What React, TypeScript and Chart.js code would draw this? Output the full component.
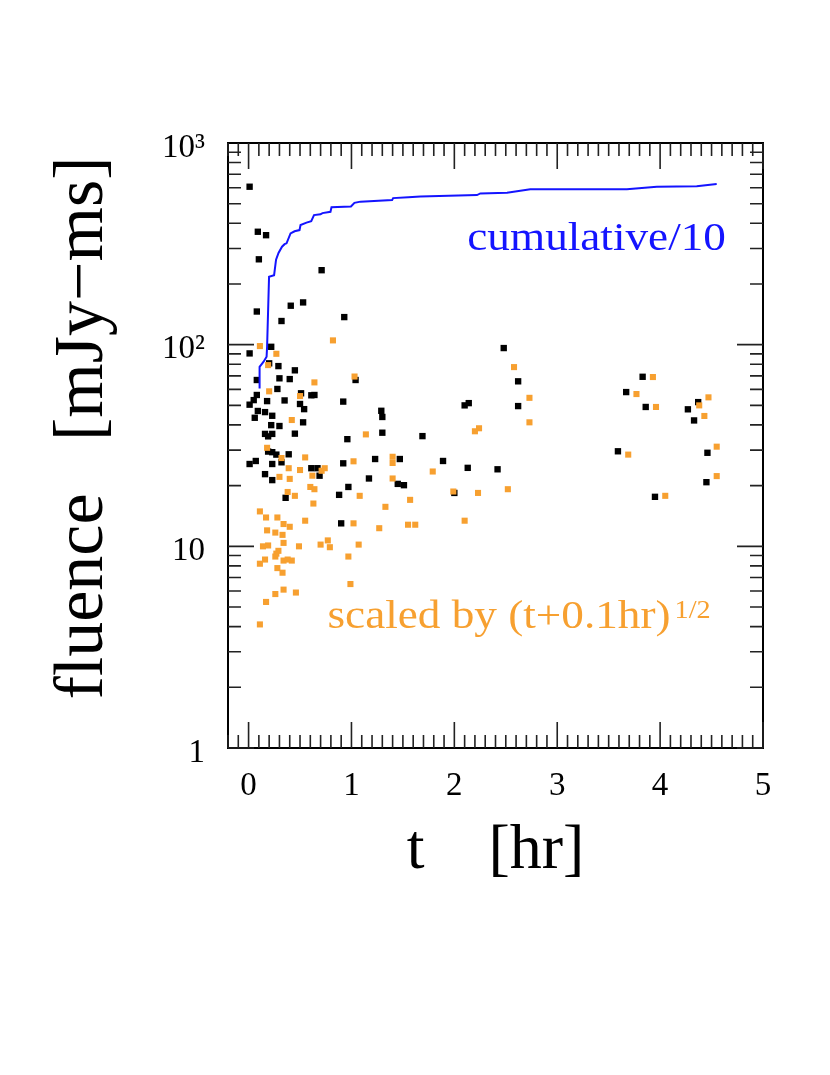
import React, { useEffect, useRef } from 'react';
import { Chart, registerables } from 'chart.js';

Chart.register(...registerables);

// ---------- data ----------
const xTickValues = [0, 1, 2, 3, 4, 5];
const xTickLabels = ['0', '1', '2', '3', '4', '5'];
const yTickValues = [1, 10, 100, 1000];
const yTickLabels = ['1', '10', '10²', '10³'];

const blackT = [0.01, 0.09, 0.17, 0.10, 0.71, 0.08, 0.41, 0.53, 0.32, 0.93, 0.22, 0.01, 0.20, 0.29, 0.45, 0.08, 0.30, 0.40, 1.04, 0.28, 0.08, 0.51, 0.61, 0.64, 0.05, 0.01, 0.18, 0.35, 0.50, 0.54, 0.92, 0.09, 0.16, 0.06, 0.23, 0.53, 0.22, 0.30, 0.16, 0.19, 0.23, 0.45, 0.96, 0.23, 0.27, 0.39, 0.19, 0.07, 0.01, 0.23, 0.32, 0.61, 0.67, 0.69, 0.92, 0.16, 0.23, 1.29, 1.30, 1.30, 1.69, 1.23, 1.47, 1.17, 0.97, 1.45, 1.51, 0.88, 0.36, 0.90, 2.48, 2.62, 2.10, 2.14, 2.62, 1.89, 2.13, 2.42, 2.00, 3.83, 3.67, 3.86, 4.37, 4.27, 4.33, 3.59, 4.46, 4.45, 3.95];
const blackF = [607, 363, 349, 265, 234, 146, 156, 162, 131, 137, 97.6, 90.5, 80.8, 78.3, 74.6, 66.8, 68.1, 67.5, 66.8, 60.3, 56.3, 57.4, 56.1, 56.3, 53.1, 50.4, 52.5, 52.9, 50.8, 47.9, 52.2, 46.9, 46.3, 43.4, 44.4, 41.2, 39.9, 39.5, 36.1, 35.1, 36.1, 36.2, 34.0, 29.3, 28.5, 28.6, 29.5, 26.5, 25.6, 25.6, 26.1, 24.4, 24.4, 22.4, 25.8, 22.8, 21.3, 47.0, 43.8, 36.6, 35.2, 27.1, 27.1, 21.7, 19.7, 20.4, 20.1, 18.0, 17.4, 13.0, 96.2, 65.8, 50.0, 51.3, 49.6, 26.5, 24.5, 24.1, 18.4, 69.3, 58.2, 49.1, 51.9, 47.8, 42.1, 29.6, 29.1, 20.8, 17.6];

const orangeT = [0.11, 0.82, 0.27, 0.19, 0.64, 1.03, 0.20, 0.50, 0.42, 0.18, 0.32, 0.55, 0.39, 0.50, 0.62, 0.71, 0.74, 0.30, 0.40, 1.14, 1.40, 1.40, 1.02, 1.40, 0.60, 0.64, 0.38, 0.45, 1.08, 0.63, 1.33, 1.57, 0.11, 0.17, 0.28, 0.55, 0.34, 0.40, 1.02, 1.55, 1.62, 1.27, 0.18, 0.26, 0.33, 0.34, 0.14, 0.19, 0.49, 0.70, 0.77, 0.79, 0.29, 0.27, 0.26, 0.16, 0.11, 0.34, 0.38, 0.42, 0.28, 0.33, 0.34, 0.26, 0.46, 0.17, 0.11, 1.07, 0.97, 0.99, 2.58, 2.73, 2.73, 2.24, 2.20, 1.79, 1.99, 2.23, 2.52, 2.10, 3.93, 3.77, 3.96, 4.47, 4.38, 4.43, 3.69, 4.55, 4.55, 4.05];
const orangeF = [98.4, 105, 90.1, 79.2, 65.0, 69.5, 58.7, 55.6, 42.3, 30.8, 27.4, 27.6, 24.4, 23.9, 22.4, 23.7, 24.4, 22.1, 21.6, 35.9, 27.8, 25.9, 26.4, 21.7, 19.7, 19.2, 18.6, 17.8, 17.8, 16.3, 15.7, 17.0, 14.9, 13.9, 13.9, 13.4, 12.9, 12.5, 13.0, 12.8, 12.8, 12.3, 12.0, 11.7, 11.4, 10.4, 10.0, 10.1, 10.0, 10.2, 10.7, 9.9, 9.5, 9.2, 8.9, 8.6, 8.2, 8.5, 8.6, 8.5, 7.8, 7.4, 6.1, 5.8, 5.9, 5.3, 4.1, 10.2, 8.9, 6.5, 77.4, 54.5, 41.2, 38.5, 37.2, 23.5, 18.7, 18.4, 19.2, 13.4, 69.1, 56.9, 49.1, 54.8, 50.0, 44.3, 28.5, 31.2, 22.3, 17.8];

const cumT = [0.107, 0.107, 0.146, 0.175, 0.180, 0.199, 0.248, 0.267, 0.291, 0.325, 0.350, 0.369, 0.408, 0.447, 0.495, 0.505, 0.563, 0.609, 0.636, 0.699, 0.718, 0.796, 0.806, 0.995, 1.029, 1.087, 1.395, 1.405, 1.553, 1.670, 2.220, 2.252, 2.512, 2.738, 3.677, 3.968, 4.356, 4.550];
const cumF = [60.7, 77.7, 82.3, 87.1, 97.7, 217, 221, 264, 285, 306, 315, 318, 356, 365, 370, 392, 403, 410, 439, 443, 449, 456, 480, 484, 505, 512, 521, 533, 539, 543, 552, 562, 566, 589, 589, 607, 611, 626];

const cumLabel = 'cumulative/10';
const cumLabelAt = [2.126, 294];
const scaledLabel = 'scaled by (t+0.1hr)';
const scaledSup = '1/2';
const scaledLabelAt = [0.767, 3.94];

const xTitle = 't    [hr]';
const yTitle = '  fluence   [mJy\u2212ms]';

const FONT = "'Liberation Serif', 'Times New Roman', serif";
const BLUE = 'rgb(20,20,255)';
const ORANGE = 'rgb(247,160,48)';

const framePlugin = {
  id: 'frameTicks',
  afterDraw(chart: any) {
    const { ctx, chartArea, scales } = chart;
    const { left, right, top, bottom } = chartArea;
    const x = scales.x;
    const y = scales.y;
    ctx.save();
    ctx.strokeStyle = '#000';
    ctx.lineWidth = 2;
    ctx.strokeRect(left, top, right - left, bottom - top);
    ctx.strokeStyle = '#222';
    ctx.lineWidth = 1.6;
    ctx.beginPath();
    const i0 = Math.ceil(x.min * 10 - 1e-6);
    const i1 = Math.floor(x.max * 10 + 1e-6);
    for (let i = i0; i <= i1; i++) {
      const px = x.getPixelForValue(i / 10);
      const len = i % 10 === 0 ? 26 : 13;
      ctx.moveTo(px, bottom);
      ctx.lineTo(px, bottom - len);
      ctx.moveTo(px, top);
      ctx.lineTo(px, top + len);
    }
    for (let d = 0; d <= 2; d++) {
      for (let m = 1; m <= 9; m++) {
        const v = m * Math.pow(10, d);
        const py = y.getPixelForValue(v);
        const len = m === 1 ? 26 : 13;
        ctx.moveTo(left, py);
        ctx.lineTo(left + len, py);
        ctx.moveTo(right, py);
        ctx.lineTo(right - len, py);
      }
    }
    ctx.stroke();

    const sx = 1.13;
    // cumulative label
    ctx.font = `40px ${FONT}`;
    ctx.fillStyle = BLUE;
    ctx.textBaseline = 'alphabetic';
    ctx.textAlign = 'left';
    let tx = x.getPixelForValue(cumLabelAt[0]);
    let ty = y.getPixelForValue(cumLabelAt[1]);
    ctx.save();
    ctx.translate(tx, ty);
    ctx.scale(sx, 1);
    ctx.fillText(cumLabel, 0, 0);
    ctx.restore();

    // scaled label
    ctx.fillStyle = ORANGE;
    tx = x.getPixelForValue(scaledLabelAt[0]);
    ty = y.getPixelForValue(scaledLabelAt[1]);
    const w = ctx.measureText(scaledLabel).width * sx;
    ctx.save();
    ctx.translate(tx, ty);
    ctx.scale(sx, 1);
    ctx.fillText(scaledLabel, 0, 0);
    ctx.restore();
    ctx.font = `25px ${FONT}`;
    ctx.save();
    ctx.translate(tx + w + 4, ty - 10);
    ctx.scale(sx, 1);
    ctx.fillText(scaledSup, 0, 0);
    ctx.restore();

    ctx.restore();
  },
};

export default function App() {
  const ref = useRef<HTMLCanvasElement | null>(null);

  useEffect(() => {
    if (!ref.current) return;
    const chart = new Chart(ref.current, {
      type: 'scatter',
      data: {
        datasets: [
          {
            label: 'cumulative/10',
            data: cumT.map((t, i) => ({ x: t, y: cumF[i] })),
            showLine: true,
            borderColor: BLUE,
            borderWidth: 2,
            pointRadius: 0,
            tension: 0,
            fill: false,
            order: 0,
          },
          {
            label: 'scaled',
            data: orangeT.map((t, i) => ({ x: t, y: orangeF[i] })),
            pointStyle: 'rect',
            pointRadius: 4.3,
            backgroundColor: ORANGE,
            borderColor: ORANGE,
            borderWidth: 0,
            order: 1,
          },
          {
            label: 'fluence',
            data: blackT.map((t, i) => ({ x: t, y: blackF[i] })),
            pointStyle: 'rect',
            pointRadius: 4.5,
            backgroundColor: '#000',
            borderColor: '#000',
            borderWidth: 0,
            order: 2,
          },
        ],
      },
      options: {
        animation: false,
        responsive: false,
        devicePixelRatio: 1,
        layout: { padding: { left: 0, right: 67, top: 143, bottom: 0 } },
        plugins: {
          legend: { display: false },
          tooltip: { enabled: false },
        },
        scales: {
          x: {
            type: 'linear',
            min: -0.2,
            max: 5,
            afterBuildTicks: (s: any) => {
              s.ticks = xTickValues.map((v) => ({ value: v }));
            },
            afterFit: (s: any) => {
              s.height = 327;
            },
            grid: { display: false, drawTicks: false },
            border: { display: false },
            ticks: {
              autoSkip: false,
              maxRotation: 0,
              padding: 19,
              color: '#000',
              font: { family: FONT, size: 33 },
              callback: (v: any) => {
                const k = xTickValues.indexOf(Number(v));
                return k >= 0 ? xTickLabels[k] : '';
              },
            },
            title: {
              display: true,
              text: xTitle,
              color: '#000',
              font: { family: FONT, size: 64 },
              padding: { top: 0, bottom: 185 },
            },
          },
          y: {
            type: 'logarithmic',
            min: 1,
            max: 1000,
            afterBuildTicks: (s: any) => {
              s.ticks = yTickValues.map((v) => ({ value: v, major: true }));
            },
            afterFit: (s: any) => {
              s.width = 228;
            },
            grid: { display: false, drawTicks: false },
            border: { display: false },
            ticks: {
              autoSkip: false,
              padding: 23,
              labelOffset: 5,
              color: '#000',
              font: { family: FONT, size: 33 },
              callback: (v: any) => {
                const k = yTickValues.indexOf(Number(v));
                return k >= 0 ? yTickLabels[k] : '';
              },
            },
            title: {
              display: true,
              text: yTitle,
              color: '#000',
              font: { family: FONT, size: 70 },
              padding: { top: 42, bottom: 0 },
            },
          },
        },
      },
      plugins: [framePlugin],
    } as any);
    return () => chart.destroy();
  }, []);

  return (
    <div style={{ position: 'absolute', left: 0, top: 0, width: 830, height: 1075, background: '#fff' }}>
      <canvas ref={ref} width={830} height={1075} style={{ display: 'block' }} />
    </div>
  );
}
